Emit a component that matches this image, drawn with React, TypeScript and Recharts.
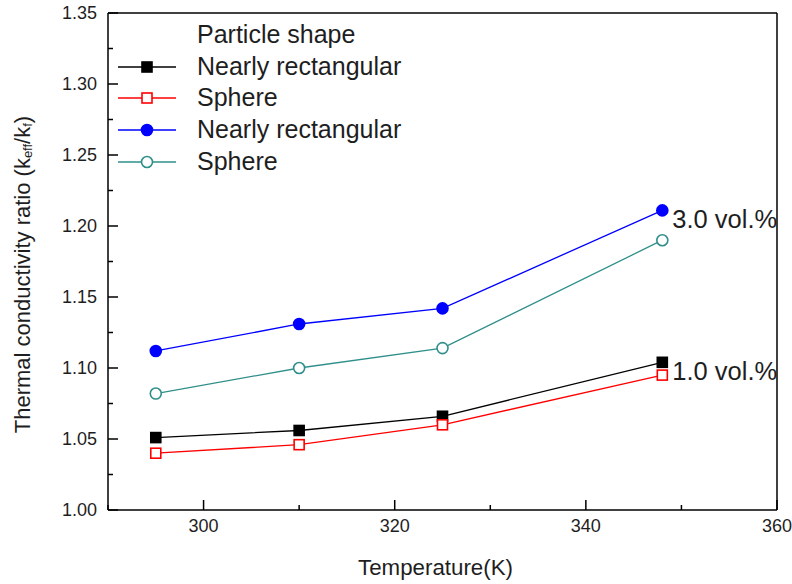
import React from "react";
import { LineChart, Line, XAxis, YAxis, ReferenceLine, LabelList } from "recharts";

// values
const temperature = [295, 310, 325, 348];
const rectangular1 = [1.051, 1.056, 1.066, 1.104];
const sphere1 = [1.04, 1.046, 1.06, 1.095];
const rectangular3 = [1.112, 1.131, 1.142, 1.211];
const sphere3 = [1.082, 1.1, 1.114, 1.19];

const xTicks = [290, 300, 310, 320, 330, 340, 350, 360];
const xLabels = [300, 320, 340, 360];
const yTicks = [1, 1.025, 1.05, 1.075, 1.1, 1.125, 1.15, 1.175, 1.2, 1.225, 1.25, 1.275, 1.3, 1.325, 1.35];
const yLabels = [1, 1.05, 1.1, 1.15, 1.2, 1.25, 1.3, 1.35];

const legendTitle = "Particle shape";
const seriesNames = ["Nearly rectangular", "Sphere", "Nearly rectangular", "Sphere"];
const groupLabels = ["1.0 vol.%", "3.0 vol.%"];

const data = temperature.map((t, i) => ({
  t,
  rect1: rectangular1[i],
  sph1: sphere1[i],
  rect3: rectangular3[i],
  sph3: sphere3[i],
}));

const FONT = '"Liberation Sans", Arial, sans-serif';
const TEXT = "#1e1e1e";

const series = [
  { key: "rect1", color: "#000000", shape: "square", filled: true },
  { key: "sph1", color: "#ff0000", shape: "square", filled: false },
  { key: "rect3", color: "#0000ff", shape: "circle", filled: true },
  { key: "sph3", color: "#2f8f8a", shape: "circle", filled: false },
];

function Marker({ cx, cy, color, shape, filled }: any) {
  const fill = filled ? color : "#ffffff";
  if (shape === "square") {
    return <rect x={cx - 5} y={cy - 5} width={10} height={10} fill={fill} stroke={color} strokeWidth={1.6} />;
  }
  return <circle cx={cx} cy={cy} r={5.5} fill={fill} stroke={color} strokeWidth={1.6} />;
}

function XTick({ x, y, payload }: any) {
  const axisY = y - 9;
  const major = xLabels.includes(payload.value);
  return (
    <g>
      <line x1={x} x2={x} y1={axisY} y2={axisY - (major ? 10 : 5)} stroke="#000" strokeWidth={1.5} />
      {major && (
        <text x={x} y={y} dy="0.71em" textAnchor="middle" fontSize={18} fontFamily={FONT} fill={TEXT}>
          {payload.value}
        </text>
      )}
    </g>
  );
}

function YTick({ x, y, payload }: any) {
  const axisX = x + 11;
  const major = yLabels.some((v) => Math.abs(v - payload.value) < 1e-6);
  return (
    <g>
      <line x1={axisX} x2={axisX + (major ? 10 : 5)} y1={y} y2={y} stroke="#000" strokeWidth={1.5} />
      {major && (
        <text x={x} y={y} dominantBaseline="central" textAnchor="end" fontSize={18} fontFamily={FONT} fill={TEXT}>
          {payload.value.toFixed(2)}
        </text>
      )}
    </g>
  );
}

function groupLabel(text: string) {
  return (props: any) => {
    if (props.index !== temperature.length - 1) return null;
    return (
      <text
        x={props.x + 10}
        y={props.y + 9}
        dominantBaseline="central"
        fontSize={25.5}
        fontFamily={FONT}
        fill={TEXT}
      >
        {text}
      </text>
    );
  };
}

function YTitle(props: any) {
  const vb = props.viewBox || {};
  const cx = vb.x + 22;
  const cy = vb.y + vb.height / 2 + 13;
  return (
    <text
      x={cx}
      y={cy}
      transform={`rotate(-90 ${cx} ${cy})`}
      textAnchor="middle"
      dominantBaseline="central"
      fontSize={22}
      fontFamily={FONT}
      fill={TEXT}
    >
      Thermal conductivity ratio (k
      <tspan fontSize={13} dy={5}>eff</tspan>
      <tspan dy={-5}>/k</tspan>
      <tspan fontSize={13} dy={5}>f</tspan>
      <tspan dy={-5}>)</tspan>
    </text>
  );
}

function XTitle(props: any) {
  const vb = props.viewBox || {};
  return (
    <text
      x={vb.x + vb.width / 2 - 7}
      y={vb.y + 57}
      textAnchor="middle"
      dominantBaseline="central"
      fontSize={22.3}
      fontFamily={FONT}
      fill={TEXT}
    >
      Temperature(K)
    </text>
  );
}

function LegendBox() {
  return (
    <div
      style={{
        position: "absolute",
        left: 118,
        top: 19,
        fontFamily: FONT,
        fontSize: 25,
        color: TEXT,
        lineHeight: "31.7px",
      }}
    >
      <div style={{ paddingLeft: 79 }}>{legendTitle}</div>
      {series.map((s, i) => (
        <div key={i} style={{ display: "flex", alignItems: "center", height: 31.7 }}>
          <svg width={58} height={20} style={{ display: "block" }}>
            <line x1={0} x2={58} y1={10} y2={10} stroke={s.color} strokeWidth={1.5} />
            <Marker cx={29} cy={10} color={s.color} shape={s.shape} filled={s.filled} />
          </svg>
          <span style={{ marginLeft: 21 }}>{seriesNames[i]}</span>
        </div>
      ))}
    </div>
  );
}

export default function App() {
  return (
    <div style={{ position: "absolute", left: 0, top: 0, width: 792, height: 584, overflow: "hidden", background: "#fff" }}>
      <LineChart width={792} height={584} data={data} margin={{ top: 13, right: 15, bottom: 0, left: 0 }}>
        <XAxis
          type="number"
          dataKey="t"
          domain={[290, 360]}
          ticks={xTicks}
          interval={0}
          allowDataOverflow
          height={74}
          tickSize={0}
          tickMargin={9}
          tickLine={false}
          axisLine={{ stroke: "#000", strokeWidth: 1.5 }}
          tick={(p: any) => <XTick {...p} />}
          label={(p: any) => <XTitle {...p} />}
        />
        <YAxis
          type="number"
          domain={[1, 1.35]}
          ticks={yTicks}
          interval={0}
          allowDataOverflow
          width={108}
          tickSize={0}
          tickMargin={11}
          tickLine={false}
          axisLine={{ stroke: "#000", strokeWidth: 1.5 }}
          tick={(p: any) => <YTick {...p} />}
          label={(p: any) => <YTitle {...p} />}
        />
        <ReferenceLine y={1.35} stroke="#000" strokeWidth={1.5} />
        <ReferenceLine x={360} stroke="#000" strokeWidth={1.5} />
        {series.map((s) => (
          <Line
            key={s.key}
            dataKey={s.key}
            type="linear"
            stroke={s.color}
            strokeWidth={1.3}
            isAnimationActive={false}
            dot={(p: any) => (
              <Marker key={`${s.key}-${p.index}`} cx={p.cx} cy={p.cy} color={s.color} shape={s.shape} filled={s.filled} />
            )}
            activeDot={false}
          >
            {s.key === "rect1" && <LabelList dataKey="rect1" content={groupLabel(groupLabels[0])} />}
            {s.key === "rect3" && <LabelList dataKey="rect3" content={groupLabel(groupLabels[1])} />}
          </Line>
        ))}
      </LineChart>
      <LegendBox />
    </div>
  );
}
